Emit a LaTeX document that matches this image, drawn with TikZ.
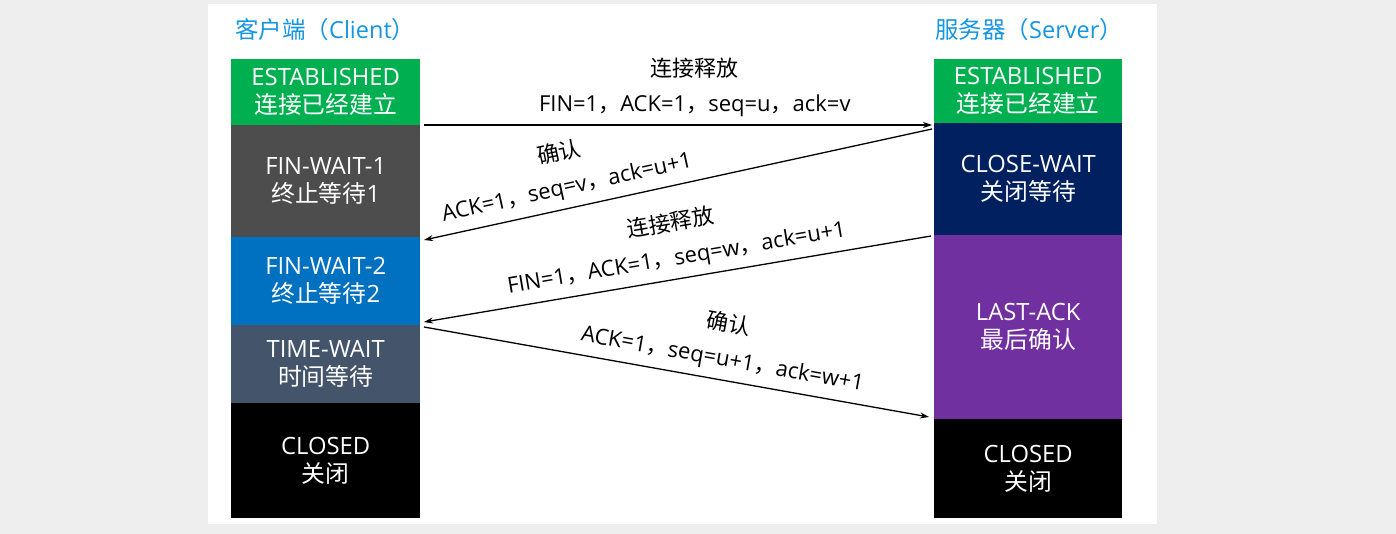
\documentclass[tikz,border=0pt]{standalone}
\usepackage{fontspec}
\setmainfont{Open Sans}
\newfontfamily\cjk{Noto Sans CJK SC}
\usetikzlibrary{arrows.meta}
\newcommand\zh[1]{{\cjk #1}}
\definecolor{bggray}{RGB}{238,238,238}
\definecolor{estgreen}{RGB}{0,176,80}
\definecolor{fwonegray}{RGB}{77,77,77}
\definecolor{fwtwoblue}{RGB}{0,112,192}
\definecolor{twslate}{RGB}{68,84,106}
\definecolor{cwnavy}{RGB}{0,32,96}
\definecolor{lapurple}{RGB}{112,48,160}
\definecolor{titleblue}{RGB}{20,150,225}
\begin{document}
\begin{tikzpicture}[x=1pt,y=-1pt,
  statebox/.style={anchor=north west, inner sep=0pt, text=white, align=center,
    font=\fontsize{23.8}{28}\selectfont},
  cbox/.style={statebox, minimum width=189pt},
  sbox/.style={statebox, minimum width=188pt},
  titletext/.style={anchor=west, inner sep=0pt, text=titleblue, font=\fontsize{23.5}{28}\selectfont},
  arr/.style={-{Stealth[length=9pt,width=6pt]}, line width=1.3pt},
  lbl/.style={sloped, above=8pt, align=center, inner sep=0pt,
    font=\fontsize{22}{35}\selectfont}]
\fill[bggray] (0,0) rectangle (1396,534);
\fill[white] (208,4) rectangle (1157,524);
\useasboundingbox (0,0) rectangle (1396,534);

\node[titletext] (ctitle) at (235,30) {\zh{客户端（}Client\zh{）}};
\node[titletext] (stitle) at (935,30) {\zh{服务器（}Server\zh{）}};

% client states
\node[cbox, fill=estgreen, minimum height=66pt] (cest) at (231,59) {ESTABLISHED\\\zh{连接已经建立}};
\node[cbox, fill=fwonegray, minimum height=112pt] (cfw1) at (231,125) {FIN-WAIT-1\\\zh{终止等待}1};
\node[cbox, fill=fwtwoblue, minimum height=88pt] (cfw2) at (231,237) {FIN-WAIT-2\\\zh{终止等待}2};
\node[cbox, fill=twslate, minimum height=78pt] (ctw) at (231,325) {TIME-WAIT\\\zh{时间等待}};
\node[cbox, fill=black, minimum height=115pt] (ccl) at (231,403) {CLOSED\\\zh{关闭}};

% server states
\node[sbox, fill=estgreen, minimum height=64pt] (sest) at (934,59) {ESTABLISHED\\\zh{连接已经建立}};
\node[sbox, fill=cwnavy, minimum height=112pt] (scw) at (934,123) {CLOSE-WAIT\\\zh{关闭等待}};
\node[sbox, fill=lapurple, minimum height=184pt] (sla) at (934,235) {LAST-ACK\\\zh{最后确认}};
\node[sbox, fill=black, minimum height=99pt] (scl) at (934,419) {CLOSED\\\zh{关闭}};

% connector end points
\coordinate (a1s) at (424,125);
\coordinate (a1e) at (932,125);
\coordinate (a2s) at (932,129);
\coordinate (a2e) at (424,240);
\coordinate (a3s) at (931,236);
\coordinate (a3e) at (424,322);
\coordinate (a4s) at (424,327);
\coordinate (a4e) at (929,417);

\draw[arr] (a1s) -- node[lbl, pos=0.533] {\zh{连接释放}\\FIN=1\zh{，}ACK=1\zh{，}seq=u\zh{，}ack=v} (a1e);
\draw[arr] (a2s) -- node[lbl, pos=0.71] {\zh{确认}\\ACK=1\zh{，}seq=v\zh{，}ack=u+1} (a2e);
\draw[arr] (a3s) -- node[lbl, pos=0.495] {\zh{连接释放}\\FIN=1\zh{，}ACK=1\zh{，}seq=w\zh{，}ack=u+1} (a3e);
\draw[arr] (a4s) -- node[lbl, pos=0.584] {\zh{确认}\\ACK=1\zh{，}seq=u+1\zh{，}ack=w+1} (a4e);
\end{tikzpicture}
\end{document}
